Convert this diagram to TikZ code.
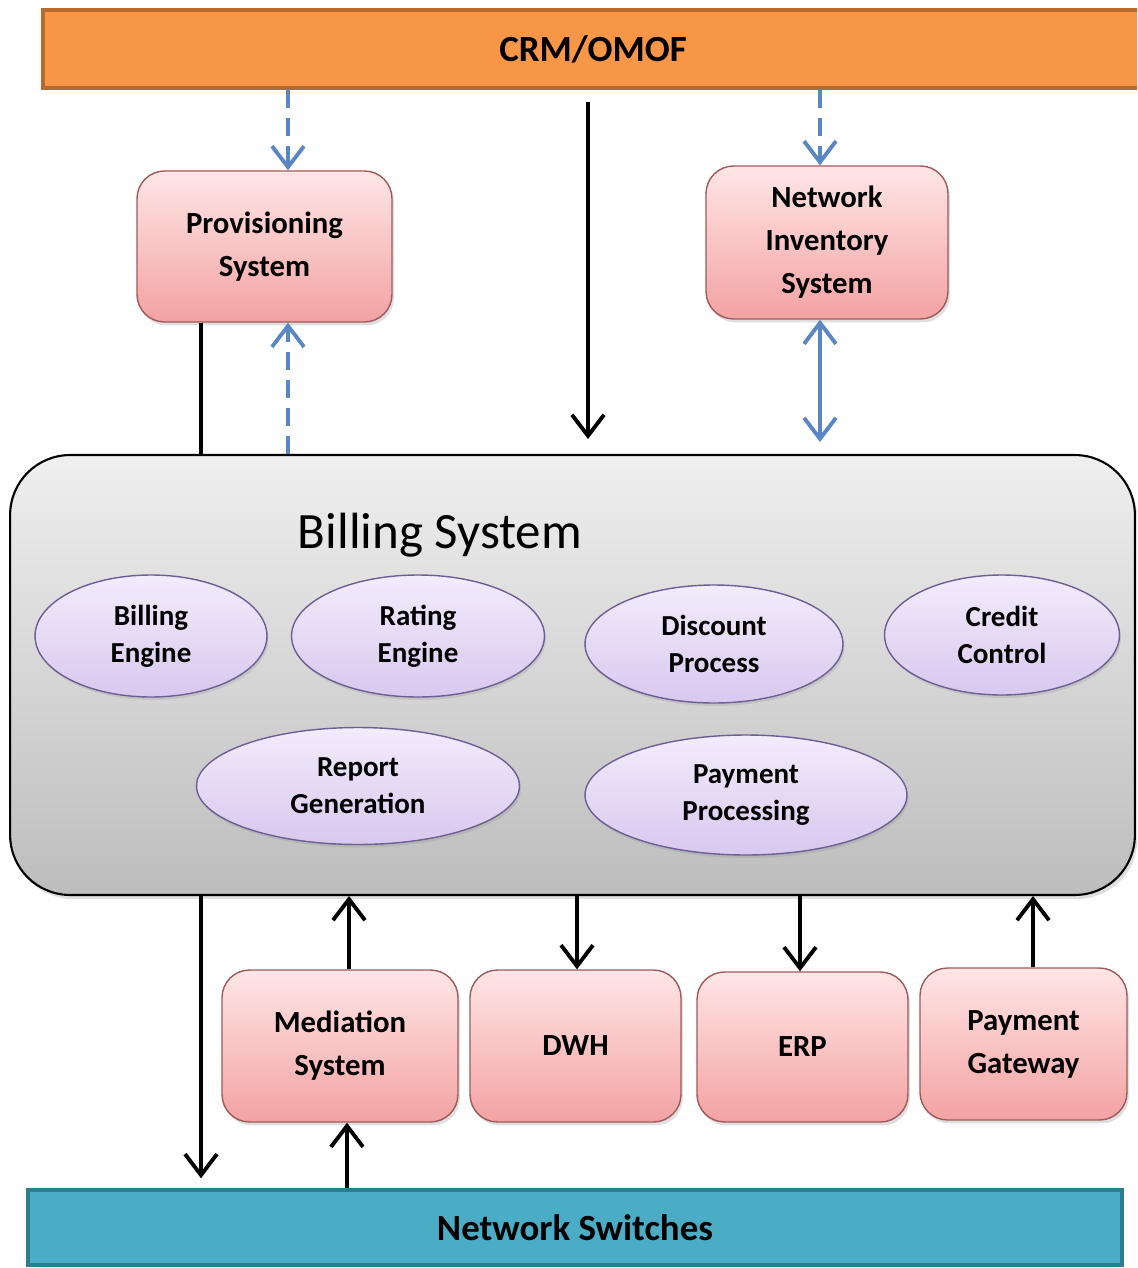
\documentclass[tikz,border=0pt]{standalone}
\usepackage{fontspec}
\setmainfont{Carlito}
\usepackage{tikz}
\usepackage{xcolor}
\usetikzlibrary{arrows.meta,shapes.geometric,shadows}
\definecolor{crmorange}{HTML}{F79646}
\definecolor{crmedge}{HTML}{B8692E}
\definecolor{boxtop}{HTML}{FFE6E6}
\definecolor{boxbot}{HTML}{F3A2A2}
\definecolor{boxedge}{HTML}{9E5A5A}
\definecolor{elltop}{HTML}{F3ECFB}
\definecolor{ellbot}{HTML}{D8C8EE}
\definecolor{elledge}{HTML}{6E5E96}
\definecolor{billtop}{HTML}{EFEFEF}
\definecolor{billbot}{HTML}{BDBDBD}
\definecolor{swblue}{HTML}{4BACC6}
\definecolor{swedge}{HTML}{2D7C90}
\definecolor{linkblue}{HTML}{5A86C4}
\tikzset{
  sysbox/.style={rectangle, rounded corners=0.55cm, draw=boxedge, line width=0.8pt,
    top color=boxtop, bottom color=boxbot, align=center,
    font=\fontsize{17.5}{24.5}\selectfont\bfseries,
    drop shadow={opacity=0.25,shadow xshift=0.04cm,shadow yshift=-0.07cm}},
  module/.style={ellipse, draw=elledge, line width=0.8pt, inner sep=0pt,
    top color=elltop, bottom color=ellbot, align=center,
    font=\fontsize{16.5}{21}\selectfont\bfseries,
    drop shadow={opacity=0.2,shadow xshift=0.03cm,shadow yshift=-0.06cm}},
  billbox/.style={rectangle, rounded corners=1.2cm, draw=black, line width=1.2pt,
    top color=billtop, bottom color=billbot,
    drop shadow={opacity=0.25,shadow xshift=0.05cm,shadow yshift=-0.08cm}},
  bar/.style={rectangle, line width=2pt, font=\fontsize{21}{25}\selectfont\bfseries},
  flow/.style={line width=2.2pt},
  link/.style={flow, draw=linkblue},
  dlink/.style={link, dash pattern=on 0.36cm off 0.2cm}
}
\begin{document}
\begin{tikzpicture}[x=0.02cm,y=-0.02cm,>={Straight Barb[length=0.42cm,width=0.64cm]}]
\useasboundingbox (0,0) rectangle (1137,1268);
\clip (0,0) rectangle (1137,1268);
\node[bar,fill=crmorange,draw=crmedge,minimum width=22cm,minimum height=1.56cm] (crm) at (593,49) {CRM/OMOF};
\node[sysbox,minimum width=5.1cm,minimum height=3.02cm] (prov) at (264.5,246.5) {Provisioning\\System};
\node[sysbox,minimum width=4.84cm,minimum height=3.06cm] (inv) at (827,242.5) {Network\\Inventory\\System};
\node[billbox,minimum width=22.5cm,minimum height=8.8cm] (bill) at (572.5,675) {};
\node[font=\fontsize{29}{34}\selectfont] (billt) at (440,535) {Billing System};
\node[module,minimum width=4.64cm,minimum height=2.44cm] (beng) at (151,636) {Billing\\Engine};
\node[module,minimum width=5.06cm,minimum height=2.44cm] (reng) at (418,636) {Rating\\Engine};
\node[module,minimum width=5.16cm,minimum height=2.36cm] (disc) at (714,644) {Discount\\Process};
\node[module,minimum width=4.7cm,minimum height=2.4cm] (cred) at (1002,635) {Credit\\Control};
\node[module,minimum width=6.46cm,minimum height=2.34cm] (repg) at (358,786) {Report\\Generation};
\node[module,minimum width=6.44cm,minimum height=2.4cm] (paypr) at (746,795) {Payment\\Processing};
\node[sysbox,minimum width=4.72cm,minimum height=3.04cm] (med) at (340,1046) {Mediation\\System};
\node[sysbox,minimum width=4.22cm,minimum height=3.04cm] (dwh) at (575.5,1046) {DWH};
\node[sysbox,minimum width=4.22cm,minimum height=3cm] (erp) at (802.5,1047) {ERP};
\node[sysbox,minimum width=4.14cm,minimum height=3.04cm] (paygw) at (1023.5,1044) {Payment\\Gateway};
\node[bar,fill=swblue,draw=swedge,minimum width=21.88cm,minimum height=1.5cm] (sw) at (575,1227.5) {Network Switches};

\draw[dlink,->] (288,0 |- crm.south) -- (288,0 |- prov.north);
\draw[dlink,->] (288,0 |- bill.north) -- (288,0 |- prov.south);
\draw[flow] (201,0 |- prov.south) -- (201,0 |- bill.north);
\draw[flow,->,shorten <=0.24cm,shorten >=0.3cm] (588,0 |- crm.south) -- (588,0 |- bill.north);
\draw[dlink,->] (820,0 |- crm.south) -- (820,0 |- inv.north);
\draw[link,<->,shorten >=0.24cm] (820,0 |- inv.south) -- (820,0 |- bill.north);
\draw[flow,->,shorten >=0.2cm] (201,0 |- bill.south) -- (201,0 |- sw.north);
\draw[flow,->] (349,0 |- med.north) -- (349,0 |- bill.south);
\draw[flow,->] (577,0 |- bill.south) -- (577,0 |- dwh.north);
\draw[flow,->] (800,0 |- bill.south) -- (800,0 |- erp.north);
\draw[flow,->] (1033,0 |- paygw.north) -- (1033,0 |- bill.south);
\draw[flow,->] (347,0 |- sw.north) -- (347,0 |- med.south);
\end{tikzpicture}
\end{document}
